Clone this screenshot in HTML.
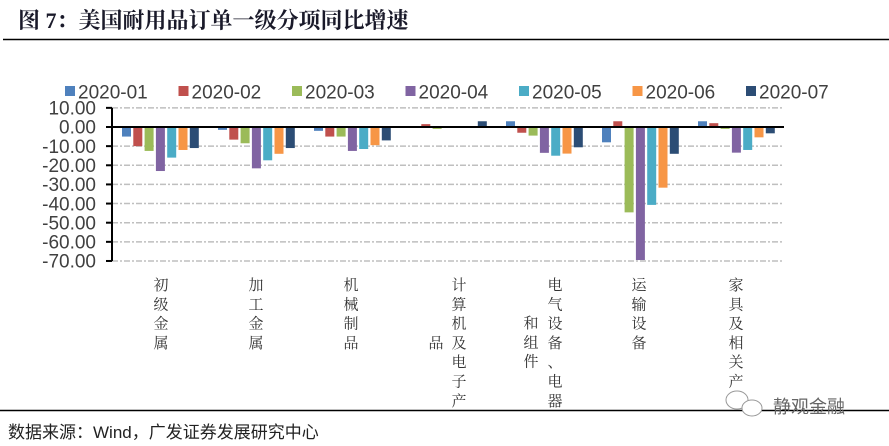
<!DOCTYPE html>
<html><head><meta charset="utf-8"><style>
body{margin:0;background:#fff;}
svg{display:block;}
</style></head><body>
<svg width="889" height="446" xmlns="http://www.w3.org/2000/svg">
<text x="18" y="28" font-family="Liberation Serif, Noto Serif CJK SC, serif" font-size="22" font-weight="bold" fill="#1a1a2a">图 7：美国耐用品订单一级分项同比增速</text>
<line x1="3" y1="39.5" x2="889" y2="39.5" stroke="#000" stroke-width="1.5"/>
<g stroke="#bfbfbf" stroke-width="1.5" stroke-dasharray="6,2,2,2">
<line x1="112" y1="107.86" x2="784" y2="107.86"/>
<line x1="112" y1="146.14" x2="784" y2="146.14"/>
<line x1="112" y1="165.28" x2="784" y2="165.28"/>
<line x1="112" y1="184.42" x2="784" y2="184.42"/>
<line x1="112" y1="203.56" x2="784" y2="203.56"/>
<line x1="112" y1="222.7" x2="784" y2="222.7"/>
<line x1="112" y1="241.84" x2="784" y2="241.84"/>
<line x1="112" y1="260.98" x2="784" y2="260.98"/>
</g>
<g fill="#4f81bd">
<rect x="122" y="127" width="9" height="9.57"/>
<rect x="218" y="127" width="9" height="2.87"/>
<rect x="314" y="127" width="9" height="3.83"/>
<rect x="410" y="126.43" width="9" height="0.57"/>
<rect x="506" y="121.26" width="9" height="5.74"/>
<rect x="602" y="127" width="9" height="15.31"/>
<rect x="698" y="121.26" width="9" height="5.74"/>
</g>
<g fill="#c0504d">
<rect x="133.3" y="127" width="9" height="19.14"/>
<rect x="229.3" y="127" width="9" height="12.63"/>
<rect x="325.3" y="127" width="9" height="9.57"/>
<rect x="421.3" y="124.13" width="9" height="2.87"/>
<rect x="517.3" y="127" width="9" height="5.74"/>
<rect x="613.3" y="121.26" width="9" height="5.74"/>
<rect x="709.3" y="123.17" width="9" height="3.83"/>
</g>
<g fill="#9bbb59">
<rect x="144.6" y="127" width="9" height="23.93"/>
<rect x="240.6" y="127" width="9" height="16.27"/>
<rect x="336.6" y="127" width="9" height="9.57"/>
<rect x="432.6" y="127" width="9" height="1.91"/>
<rect x="528.6" y="127" width="9" height="8.61"/>
<rect x="624.6" y="127" width="9" height="85.36"/>
<rect x="720.6" y="127" width="9" height="1.91"/>
</g>
<g fill="#8064a2">
<rect x="155.9" y="127" width="9" height="44.02"/>
<rect x="251.9" y="127" width="9" height="41.34"/>
<rect x="347.9" y="127" width="9" height="23.93"/>
<rect x="443.9" y="127" width="9" height="0.96"/>
<rect x="539.9" y="127" width="9" height="25.84"/>
<rect x="635.9" y="127" width="9" height="133.02"/>
<rect x="731.9" y="127" width="9" height="25.65"/>
</g>
<g fill="#4bacc6">
<rect x="167.2" y="127" width="9" height="30.62"/>
<rect x="263.2" y="127" width="9" height="33.3"/>
<rect x="359.2" y="127" width="9" height="22.01"/>
<rect x="455.2" y="127" width="9" height="0.96"/>
<rect x="551.2" y="127" width="9" height="28.71"/>
<rect x="647.2" y="127" width="9" height="77.9"/>
<rect x="743.2" y="127" width="9" height="22.97"/>
</g>
<g fill="#f79646">
<rect x="178.5" y="127" width="9" height="22.97"/>
<rect x="274.5" y="127" width="9" height="26.8"/>
<rect x="370.5" y="127" width="9" height="18.18"/>
<rect x="466.5" y="126.04" width="9" height="0.96"/>
<rect x="562.5" y="127" width="9" height="26.6"/>
<rect x="658.5" y="127" width="9" height="60.67"/>
<rect x="754.5" y="127" width="9" height="10.34"/>
</g>
<g fill="#2c4d75">
<rect x="189.8" y="127" width="9" height="21.05"/>
<rect x="285.8" y="127" width="9" height="21.05"/>
<rect x="381.8" y="127" width="9" height="13.4"/>
<rect x="477.8" y="121.26" width="9" height="5.74"/>
<rect x="573.8" y="127" width="9" height="20.29"/>
<rect x="669.8" y="127" width="9" height="26.8"/>
<rect x="765.8" y="127" width="9" height="6.32"/>
</g>
<g stroke="#000" stroke-width="2">
<line x1="112" y1="107.86" x2="112" y2="260.98"/>
<line x1="112" y1="127" x2="784" y2="127"/>
<line x1="106" y1="107.86" x2="112" y2="107.86"/>
<line x1="106" y1="127" x2="112" y2="127"/>
<line x1="106" y1="146.14" x2="112" y2="146.14"/>
<line x1="106" y1="165.28" x2="112" y2="165.28"/>
<line x1="106" y1="184.42" x2="112" y2="184.42"/>
<line x1="106" y1="203.56" x2="112" y2="203.56"/>
<line x1="106" y1="222.7" x2="112" y2="222.7"/>
<line x1="106" y1="241.84" x2="112" y2="241.84"/>
<line x1="106" y1="260.98" x2="112" y2="260.98"/>
</g>
<g font-family="Liberation Sans, sans-serif" font-size="19" fill="#404040" text-anchor="end">
<text x="96" y="114.6">10.00</text>
<text x="96" y="133.7">0.00</text>
<text x="96" y="152.8">-10.00</text>
<text x="96" y="172">-20.00</text>
<text x="96" y="191.1">-30.00</text>
<text x="96" y="210.3">-40.00</text>
<text x="96" y="229.4">-50.00</text>
<text x="96" y="248.5">-60.00</text>
<text x="96" y="267.7">-70.00</text>
</g>
<g font-family="Liberation Sans, sans-serif" font-size="19" fill="#404040">
<rect x="65" y="86" width="10" height="10" fill="#4f81bd"/><text x="78" y="98.5">2020-01</text>
<rect x="178.5" y="86" width="10" height="10" fill="#c0504d"/><text x="191.5" y="98.5">2020-02</text>
<rect x="292" y="86" width="10" height="10" fill="#9bbb59"/><text x="305" y="98.5">2020-03</text>
<rect x="405.5" y="86" width="10" height="10" fill="#8064a2"/><text x="418.5" y="98.5">2020-04</text>
<rect x="519" y="86" width="10" height="10" fill="#4bacc6"/><text x="532" y="98.5">2020-05</text>
<rect x="632.5" y="86" width="10" height="10" fill="#f79646"/><text x="645.5" y="98.5">2020-06</text>
<rect x="746" y="86" width="10" height="10" fill="#2c4d75"/><text x="759" y="98.5">2020-07</text>
</g>
<g font-family="Liberation Serif, Noto Serif CJK SC, serif" font-size="15" fill="#333" text-anchor="middle">
<text x="161" y="290"><tspan x="161">初</tspan><tspan x="161" dy="19.3">级</tspan><tspan x="161" dy="19.3">金</tspan><tspan x="161" dy="19.3">属</tspan></text>
<text x="256" y="290"><tspan x="256">加</tspan><tspan x="256" dy="19.3">工</tspan><tspan x="256" dy="19.3">金</tspan><tspan x="256" dy="19.3">属</tspan></text>
<text x="351" y="290"><tspan x="351">机</tspan><tspan x="351" dy="19.3">械</tspan><tspan x="351" dy="19.3">制</tspan><tspan x="351" dy="19.3">品</tspan></text>
<text x="459" y="290"><tspan x="459">计</tspan><tspan x="459" dy="19.3">算</tspan><tspan x="459" dy="19.3">机</tspan><tspan x="459" dy="19.3">及</tspan><tspan x="459" dy="19.3">电</tspan><tspan x="459" dy="19.3">子</tspan><tspan x="459" dy="19.3">产</tspan></text>
<text x="436" y="348">品</text>
<text x="555" y="290"><tspan x="555">电</tspan><tspan x="555" dy="19.3">气</tspan><tspan x="555" dy="19.3">设</tspan><tspan x="555" dy="19.3">备</tspan><tspan x="555" dy="19.3">、</tspan><tspan x="555" dy="19.3">电</tspan><tspan x="555" dy="19.3">器</tspan></text>
<text x="531" y="328"><tspan x="531">和</tspan><tspan x="531" dy="19.3">组</tspan><tspan x="531" dy="19.3">件</tspan></text>
<text x="639" y="290"><tspan x="639">运</tspan><tspan x="639" dy="19.3">输</tspan><tspan x="639" dy="19.3">设</tspan><tspan x="639" dy="19.3">备</tspan></text>
<text x="736" y="290"><tspan x="736">家</tspan><tspan x="736" dy="19.3">具</tspan><tspan x="736" dy="19.3">及</tspan><tspan x="736" dy="19.3">相</tspan><tspan x="736" dy="19.3">关</tspan><tspan x="736" dy="19.3">产</tspan></text>
</g>
<line x1="0" y1="410.5" x2="889" y2="410.5" stroke="#000" stroke-width="1.5"/>
<ellipse cx="737" cy="400" rx="11" ry="9" fill="#fff" stroke="#999"/>
<ellipse cx="752" cy="408" rx="10" ry="8" fill="#fff" stroke="#999"/>
<text x="773" y="413" font-family="Liberation Sans, Noto Sans CJK SC, sans-serif" font-size="18" fill="#666">静观金融</text>
<text x="8" y="438" font-family="Liberation Sans, Noto Sans CJK SC, sans-serif" font-size="17" fill="#222">数据来源：Wind，广发证券发展研究中心</text>
</svg>
</body></html>
